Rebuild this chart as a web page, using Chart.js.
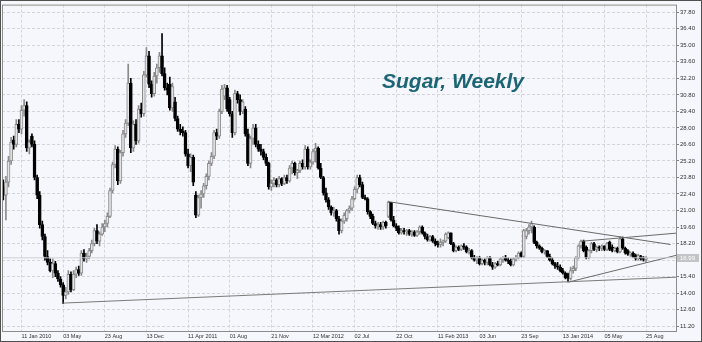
<!DOCTYPE html>
<html>
<head>
<meta charset="utf-8">
<title>Sugar, Weekly</title>
<script src="https://cdn.jsdelivr.net/npm/chart.js@4.4.0/dist/chart.umd.min.js"></script>
<style>
  html, body { margin: 0; padding: 0; background: #f6f7fc; }
</style>
</head>
<body>
<canvas id="sugarChart" width="702" height="342"></canvas>
<script>
// Weekly candles, slot 0 = week of 23 Nov 2009, slot 247 = week of 25 Aug 2014
const opens = [
  23.0, 22.3, 23.4, 25.2, 27.0, 26.6, 28.3, 27.9,
  29.5, 29.9, 26.3, 27.3, 26.6, 23.8, 22.3, 19.8,
  18.8, 17.1, 16.6, 15.9, 16.5, 15.7, 15.2, 14.7,
  13.8, 14.1, 15.6, 14.3, 15.6, 16.0, 15.7, 17.4,
  16.9, 17.1, 17.6, 18.2, 19.3, 18.4, 19.0, 19.6,
  19.9, 20.5, 22.7, 24.9, 26.2, 23.5, 25.9, 27.5,
  28.4, 31.8, 26.3, 28.3, 26.9, 29.6, 29.2, 32.5,
  34.1, 31.7, 30.9, 32.4, 33.1, 34.1, 32.6, 31.4,
  31.7, 29.7, 30.2, 28.8, 27.9, 27.7, 27.6, 25.8,
  24.8, 25.5, 22.3, 20.6, 22.1, 22.4, 23.1, 23.9,
  25.0, 25.6, 27.6, 27.3, 29.4, 30.7, 31.4, 30.4,
  29.2, 27.6, 30.9, 30.4, 29.4, 29.6, 27.5, 25.0,
  27.1, 28.0, 26.6, 26.2, 26.0, 25.5, 25.0, 23.0,
  23.3, 23.6, 23.2, 23.7, 23.3, 23.8, 23.5, 24.6,
  25.0, 24.2, 24.4, 25.0, 24.7, 26.2, 24.7, 25.1,
  26.0, 26.3, 24.6, 23.8, 22.5, 21.9, 21.3, 20.8,
  21.0, 20.3, 19.3, 20.1, 20.3, 21.0, 21.2, 22.0,
  22.8, 23.8, 23.2, 22.1, 22.0, 20.9, 20.5, 19.9,
  19.7, 19.8, 19.6, 20.0, 20.5, 21.7, 20.2, 19.7,
  19.5, 19.1, 19.3, 19.2, 19.3, 19.0, 19.2, 18.9,
  19.2, 19.6, 19.1, 18.8, 18.5, 18.8, 18.4, 18.2,
  18.1, 18.3, 18.4, 18.7, 19.1, 18.2, 17.6, 17.9,
  17.7, 18.0, 17.9, 17.5, 17.6, 17.0, 16.8, 17.0,
  16.5, 16.8, 16.6, 17.0, 16.4, 16.2, 16.5, 16.4,
  16.9, 17.0, 16.8, 16.7, 16.4, 16.9, 17.0, 17.4,
  17.1, 18.8, 19.3, 19.6, 19.6, 18.3, 18.0, 17.8,
  17.5, 17.6, 17.1, 16.8, 16.5, 16.3, 16.2, 15.9,
  15.7, 15.6, 15.25, 15.9, 16.1, 17.0, 18.0, 18.4,
  17.9, 17.0, 17.6, 18.2, 17.7, 17.9, 17.8, 18.0,
  17.7, 18.3, 17.9, 17.6, 17.8, 17.5, 18.6, 17.8,
  17.6, 17.3, 17.4, 17.2, 16.95, 17.1, 16.9, 16.85
];
const highs = [
  23.6, 23.9, 25.6, 27.2, 27.3, 28.7, 28.7, 29.9,
  30.4, 30.2, 27.0, 27.5, 26.9, 24.0, 22.6, 20.1,
  19.0, 17.6, 16.9, 16.9, 16.7, 15.9, 15.4, 14.9,
  14.5, 15.9, 15.8, 15.9, 16.2, 16.3, 17.6, 17.7,
  17.4, 17.8, 18.5, 19.5, 19.8, 19.2, 19.9, 20.2,
  20.8, 22.9, 25.1, 26.5, 26.4, 26.1, 27.8, 28.7,
  33.4, 32.2, 28.6, 28.7, 29.9, 30.1, 32.8, 34.8,
  34.5, 32.0, 32.7, 33.4, 34.4, 36.0, 33.1, 31.8,
  32.3, 31.8, 30.6, 29.0, 28.3, 28.1, 27.8, 26.2,
  25.8, 25.7, 22.6, 22.3, 22.7, 23.3, 24.1, 25.2,
  25.9, 27.8, 27.9, 29.6, 31.6, 31.7, 31.6, 30.6,
  29.4, 31.2, 31.1, 30.8, 30.4, 29.8, 27.9, 27.3,
  28.3, 28.3, 26.9, 26.6, 26.2, 25.8, 25.1, 23.6,
  23.8, 23.7, 23.9, 23.8, 24.0, 24.0, 24.8, 25.2,
  25.1, 24.5, 25.2, 25.3, 26.5, 26.4, 25.3, 26.2,
  26.7, 26.4, 25.0, 23.9, 22.9, 22.1, 21.4, 21.3,
  21.1, 20.5, 20.3, 20.8, 21.1, 21.4, 22.2, 23.0,
  24.0, 24.0, 23.4, 22.3, 22.1, 21.0, 20.7, 20.1,
  20.0, 20.0, 20.1, 20.1, 21.8, 21.7, 20.5, 19.9,
  19.7, 19.5, 19.5, 19.4, 19.4, 19.3, 19.3, 19.3,
  19.7, 19.7, 19.2, 19.0, 18.9, 18.9, 18.6, 18.4,
  18.6, 18.5, 19.1, 19.2, 19.1, 18.3, 18.0, 18.0,
  18.1, 18.2, 18.0, 17.8, 17.7, 17.2, 17.1, 17.1,
  16.9, 16.9, 17.1, 17.1, 16.6, 16.6, 16.7, 17.0,
  17.1, 17.2, 17.0, 16.9, 17.0, 17.2, 17.5, 17.5,
  19.4, 19.5, 19.8, 20.1, 19.7, 18.4, 18.1, 17.9,
  17.7, 17.6, 17.3, 17.0, 16.6, 16.6, 16.4, 16.1,
  15.8, 15.7, 16.2, 16.3, 17.1, 18.1, 18.5, 18.5,
  18.0, 17.7, 18.3, 18.3, 18.0, 18.0, 18.1, 18.0,
  18.3, 18.4, 18.1, 17.9, 17.9, 18.8, 18.75, 17.9,
  17.7, 17.5, 17.5, 17.3, 17.3, 17.2, 17.1, 17.1
];
const lows = [
  21.9, 20.2, 23.0, 24.9, 26.2, 26.4, 27.6, 27.5,
  29.0, 26.0, 25.8, 26.4, 23.6, 22.0, 19.5, 18.5,
  16.8, 16.4, 15.8, 15.3, 15.4, 15.0, 14.5, 13.1,
  13.5, 13.9, 14.1, 14.2, 15.3, 15.5, 15.5, 16.7,
  16.6, 16.9, 17.4, 18.0, 18.2, 18.0, 18.9, 19.2,
  19.6, 20.4, 22.5, 24.6, 23.2, 23.3, 25.6, 27.2,
  28.2, 25.9, 26.0, 26.6, 26.7, 28.9, 29.0, 32.3,
  31.4, 30.6, 30.7, 31.8, 32.7, 32.4, 31.2, 30.8,
  29.5, 29.4, 28.6, 27.7, 27.4, 27.3, 25.6, 24.6,
  24.3, 23.1, 20.4, 20.5, 21.2, 22.1, 22.8, 23.6,
  24.8, 25.4, 27.0, 27.1, 29.2, 30.4, 29.4, 29.0,
  27.2, 27.4, 30.1, 29.1, 29.2, 27.3, 24.8, 24.6,
  26.6, 26.4, 26.0, 25.7, 25.3, 24.8, 22.8, 22.7,
  23.0, 23.0, 23.0, 23.1, 23.2, 23.3, 23.4, 24.1,
  24.0, 23.7, 24.2, 24.5, 24.5, 24.5, 24.5, 24.9,
  25.1, 24.5, 23.7, 22.3, 21.7, 21.1, 20.6, 20.5,
  20.1, 19.0, 19.1, 19.9, 20.1, 20.8, 21.0, 21.9,
  22.5, 23.0, 22.0, 21.9, 20.7, 20.3, 19.8, 19.5,
  19.4, 19.4, 19.4, 19.5, 20.4, 20.1, 19.6, 19.3,
  19.0, 19.0, 19.0, 18.9, 18.9, 18.8, 18.8, 18.8,
  19.0, 19.0, 18.6, 18.4, 18.4, 18.3, 18.0, 17.9,
  17.9, 18.0, 18.3, 18.6, 18.1, 17.5, 17.5, 17.6,
  17.6, 17.7, 17.4, 17.3, 16.9, 16.7, 16.5, 16.4,
  16.4, 16.4, 16.4, 16.3, 16.0, 16.1, 16.3, 16.3,
  16.6, 16.7, 16.5, 16.3, 16.3, 16.7, 16.9, 17.0,
  17.0, 18.6, 19.0, 19.1, 18.2, 17.8, 17.7, 17.4,
  17.3, 17.0, 16.7, 16.4, 16.1, 16.0, 15.8, 15.6,
  15.2, 14.94, 15.1, 15.7, 15.9, 16.9, 17.8, 17.5,
  16.9, 16.9, 17.4, 17.6, 17.5, 17.6, 17.6, 17.6,
  17.6, 17.6, 17.5, 17.5, 17.4, 17.4, 17.7, 17.3,
  17.2, 17.1, 17.0, 16.8, 16.8, 16.8, 16.7, 16.6
];
const closes = [
  22.3, 23.4, 25.2, 26.8, 26.6, 28.3, 27.9, 29.5,
  29.9, 26.3, 26.8, 26.6, 23.8, 22.3, 19.8, 18.8,
  17.1, 16.6, 15.9, 16.5, 15.7, 15.2, 14.7, 13.8,
  14.1, 15.6, 14.3, 15.6, 16.0, 15.7, 17.4, 16.9,
  17.1, 17.6, 18.2, 19.3, 18.4, 19.0, 19.6, 19.9,
  20.5, 22.7, 24.9, 26.2, 23.5, 25.9, 27.5, 28.4,
  31.8, 26.3, 28.3, 26.9, 29.6, 29.2, 32.5, 34.1,
  31.7, 30.9, 32.4, 33.1, 34.1, 32.6, 31.4, 31.2,
  29.7, 31.5, 28.8, 27.9, 27.7, 27.6, 25.8, 24.8,
  25.5, 23.4, 20.6, 22.1, 22.4, 23.1, 23.9, 25.0,
  25.6, 27.6, 27.3, 29.4, 31.3, 31.4, 29.6, 29.2,
  27.6, 30.9, 30.4, 29.4, 30.2, 27.5, 25.0, 27.1,
  28.0, 26.6, 26.2, 26.0, 25.5, 25.0, 23.0, 23.3,
  23.6, 23.2, 23.7, 23.3, 23.8, 23.5, 24.6, 25.0,
  24.2, 24.4, 25.0, 24.7, 26.2, 24.7, 25.1, 26.0,
  26.3, 24.6, 23.8, 22.5, 21.9, 21.3, 20.8, 21.0,
  20.3, 19.3, 20.1, 20.6, 21.0, 21.2, 22.0, 22.8,
  23.8, 23.2, 22.1, 22.0, 20.9, 20.5, 19.9, 19.7,
  19.8, 19.6, 20.0, 19.7, 21.7, 20.2, 19.7, 19.5,
  19.1, 19.3, 19.2, 19.3, 19.0, 19.2, 18.9, 19.2,
  19.6, 19.1, 18.8, 18.5, 18.8, 18.4, 18.2, 18.1,
  18.3, 18.4, 19.0, 19.1, 18.2, 17.6, 17.9, 17.7,
  18.0, 17.9, 17.5, 17.6, 17.0, 16.8, 17.0, 16.5,
  16.8, 16.6, 17.0, 16.4, 16.2, 16.5, 16.4, 16.9,
  17.0, 16.8, 16.7, 16.4, 16.9, 17.0, 17.4, 17.1,
  19.3, 19.3, 19.6, 19.9, 18.3, 18.0, 17.8, 17.5,
  17.6, 17.1, 16.8, 16.5, 16.3, 16.2, 15.9, 15.7,
  15.3, 15.25, 15.9, 16.1, 17.0, 18.0, 18.4, 17.6,
  17.0, 17.6, 18.2, 17.7, 17.9, 17.8, 18.0, 17.7,
  18.2, 17.7, 17.6, 17.8, 17.5, 18.6, 17.8, 17.4,
  17.3, 17.4, 17.1, 16.95, 17.2, 16.9, 16.85, 16.99
];

// date labels every 16 weeks, starting on slot 7
const tickSlots = [7, 23, 39, 55, 71, 87, 103, 119, 135, 151, 167, 183, 199, 215, 231, 247];
const tickLabels = ['11 Jan 2010', '03 May', '23 Aug', '13 Dec', '11 Apr 2011', '01 Aug', '21 Nov',
  '12 Mar 2012', '02 Jul', '22 Oct', '11 Feb 2013', '03 Jun', '23 Sep', '13 Jan 2014', '05 May', '25 Aug'];

// price scale ticks
const priceTicks = [11.20, 12.60, 14.00, 15.40, 16.80, 18.20, 19.60, 21.00, 22.40, 23.80,
  25.20, 26.60, 28.00, 29.40, 30.80, 32.20, 33.60, 35.00, 36.40, 37.80];

const bidPrice = 16.99;

// hand-drawn trend lines, as [slot, price] end points
const supportLine = [[22.5, 13.15], [258.5, 15.35]];
const fallingLine = [[148, 21.75], [256.4, 18.12]];
const triangleLow = [[217.3, 14.94], [258.5, 17.2]];
const triangleHigh = [[222.4, 18.4], [258.5, 19.08]];

const isUp = i => closes[i] >= opens[i];

function lineSet(points, color) {
  return {
    type: 'line',
    data: points.map(p => ({ x: p[0], y: p[1] })),
    borderColor: color,
    borderWidth: 1,
    pointRadius: 0,
    tension: 0,
    fill: false,
    order: 0
  };
}

// background, frame, title and bid price tag
const chartDecor = {
  id: 'chartDecor',
  beforeDraw(chart) {
    const ctx = chart.ctx;
    ctx.save();
    ctx.fillStyle = '#f6f7fc';
    ctx.fillRect(0, 0, chart.width, chart.height);
    ctx.restore();
  },
  afterDatasetsDraw(chart) {
    const ctx = chart.ctx;
    const a = chart.chartArea;
    ctx.save();
    ctx.font = 'italic bold 21px "Liberation Sans", Arial, sans-serif';
    ctx.fillStyle = '#1c6574';
    ctx.textBaseline = 'alphabetic';
    ctx.fillText('Sugar, Weekly', 382, 88);
    ctx.strokeStyle = '#8c8c8c';
    ctx.lineWidth = 1;
    ctx.strokeRect(a.left + 0.5, a.top + 0.5, a.right - a.left, a.bottom - a.top);
    ctx.restore();
  },
  afterDraw(chart) {
    const ctx = chart.ctx;
    const a = chart.chartArea;
    const yPix = chart.scales.y.getPixelForValue(bidPrice);
    ctx.save();
    ctx.fillStyle = '#c4c4c8';
    ctx.fillRect(a.right + 1, Math.round(yPix) - 4, 22, 8);
    ctx.fillStyle = '#ffffff';
    ctx.font = '6px "Liberation Sans", Arial, sans-serif';
    ctx.textBaseline = 'middle';
    ctx.fillText(bidPrice.toFixed(2), a.right + 4, Math.round(yPix));
    ctx.strokeStyle = '#505050';
    ctx.lineWidth = 1;
    ctx.strokeRect(0.5, 0.5, chart.width - 1, chart.height - 1);
    ctx.restore();
  }
};

const ctx = document.getElementById('sugarChart').getContext('2d');

const sugarChart = new Chart(ctx, {
  type: 'bar',
  data: {
    datasets: [
      {
        label: 'Wicks',
        data: highs.map((h, i) => ({ x: i, y: [lows[i], h] })),
        backgroundColor: c => isUp(c.dataIndex) ? '#8a8a8a' : '#000000',
        barThickness: 1,
        grouped: false,
        order: 2
      },
      {
        label: 'Bodies',
        data: opens.map((o, i) => ({ x: i, y: [o, closes[i]] })),
        backgroundColor: c => isUp(c.dataIndex) ? '#e4e4e8' : '#000000',
        borderColor: c => isUp(c.dataIndex) ? '#8a8a8a' : '#000000',
        borderWidth: 1,
        borderSkipped: false,
        minBarLength: 1,
        barThickness: 3,
        grouped: false,
        order: 1
      },
      lineSet([[-0.5, bidPrice], [258.5, bidPrice]], '#cfcfd6'),
      lineSet(supportLine, '#7a7a7a'),
      lineSet(fallingLine, '#6a6a6a'),
      lineSet(triangleLow, '#6a6a6a'),
      lineSet(triangleHigh, '#6a6a6a')
    ]
  },
  options: {
    responsive: false,
    animation: false,
    layout: { padding: { left: 2, top: 3, right: 0, bottom: 0 } },
    plugins: {
      legend: { display: false },
      tooltip: { enabled: false }
    },
    scales: {
      x: {
        type: 'linear',
        min: -0.5,
        max: 258.5,
        offset: false,
        afterBuildTicks: s => { s.ticks = tickSlots.map(v => ({ value: v })); },
        afterFit: s => { s.height = 11; },
        grid: { color: '#d4d4dc', drawTicks: false, offset: false },
        border: { display: false, dash: [3, 2] },
        ticks: {
          autoSkip: false,
          maxRotation: 0,
          align: 'start',
          padding: 2,
          color: '#303030',
          font: { size: 5.5, family: '"Liberation Sans", Arial, sans-serif' },
          callback: (v, i) => tickLabels[i]
        }
      },
      y: {
        position: 'right',
        min: 10.79,
        max: 38.45,
        beginAtZero: false,
        afterBuildTicks: s => { s.ticks = priceTicks.map(v => ({ value: v })); },
        afterFit: s => { s.width = 26; },
        grid: { color: '#d4d4dc', tickColor: '#808080', tickLength: 3 },
        border: { display: false, dash: [3, 2] },
        ticks: {
          padding: 1,
          color: '#303030',
          font: { size: 6, family: '"Liberation Sans", Arial, sans-serif' },
          callback: v => v.toFixed(2)
        }
      }
    }
  },
  plugins: [chartDecor]
});
</script>
</body>
</html>
